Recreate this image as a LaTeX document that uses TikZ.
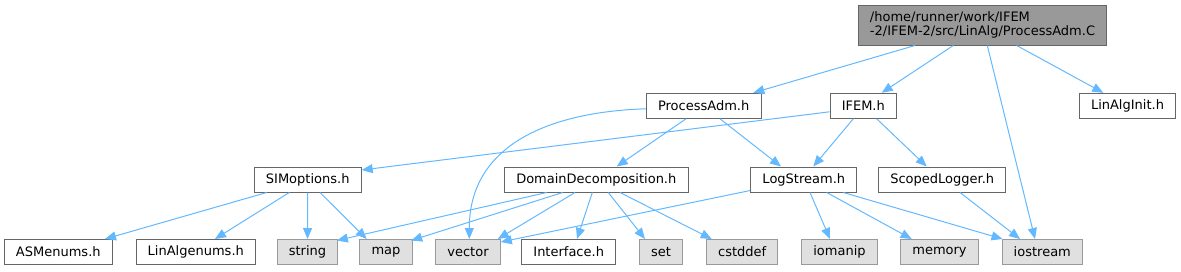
\documentclass[tikz,border=0pt]{standalone}
\usepackage{fontspec}
\setmainfont{DejaVu Sans}
\usepackage{xcolor}
\usepackage{tikz}
\usetikzlibrary{arrows.meta,positioning}

\definecolor{edgeblue}{HTML}{63B8FF}
\definecolor{boxline}{HTML}{666666}
\definecolor{sysline}{HTML}{999999}
\definecolor{sysfill}{HTML}{E0E0E0}
\definecolor{rootfill}{HTML}{999999}

\begin{document}
\begin{tikzpicture}[
  x=1pt, y=-1pt,
  font=\fontsize{13}{14.5}\selectfont,
  header/.style={rectangle, draw=boxline, fill=white, line width=1pt,
                 minimum height=25pt, inner xsep=11.7pt, inner ysep=2pt},
  syshdr/.style={header, draw=sysline, fill=sysfill},
  rootfile/.style={header, fill=rootfill, align=left,
                   minimum height=40pt, inner xsep=11pt},
  incl/.style={-{Triangle[length=11pt, width=9pt]}, draw=edgeblue,
               line width=1pt},
]
  \useasboundingbox (0,0) rectangle (1181,271);

  \node[rootfile] (root) at (982.5,25)
    {/home/runner/work/IFEM\\-2/IFEM-2/src/LinAlg/ProcessAdm.C};

  \node[header] (padm)    at (703.7,105.8)  {ProcessAdm.h};
  \node[header] (ifem)    at (863.3,105.8)  {IFEM.h};
  \node[header] (linit)   at (1127.5,105.8) {LinAlgInit.h};

  \node[header] (simopt)  at (307.7,179.5) {SIMoptions.h};
  \node[header] (domdec)  at (596.3,179.5) {DomainDecomposition.h};
  \node[header] (logstr)  at (803.8,179.5) {LogStream.h};
  \node[header] (scoped)  at (942.2,179.5) {ScopedLogger.h};

  \node[header] (asmenum) at (58.3,252)   {ASMenums.h};
  \node[header] (laenum)  at (195.8,252)  {LinAlgenums.h};
  \node[syshdr] (string)  at (307.5,252)  {string};
  \node[syshdr] (map)     at (386,252)    {map};
  \node[syshdr] (vector)  at (468,252)    {vector};
  \node[header] (iface)   at (568.7,252)  {Interface.h};
  \node[syshdr] (set)     at (661,252)    {set};
  \node[syshdr] (cstddef) at (742.2,252)  {cstddef};
  \node[syshdr] (iomanip) at (839.5,252)  {iomanip};
  \node[syshdr] (memory)  at (939.5,252)  {memory};
  \node[syshdr] (iostrm)  at (1042.3,252) {iostream};

  \draw[incl] ([xshift=-67.5pt]root.south) -- ([xshift=49.6pt]padm.north);
  \draw[incl] ([xshift=-29.2pt]root.south) -- ([xshift=18.4pt]ifem.north);
  \draw[incl] ([xshift=4.8pt]root.south) -- ([xshift=-7.3pt]iostrm.north);
  \draw[incl] ([xshift=34.2pt]root.south) -- ([xshift=-24.2pt]linit.north);

  \draw[incl] ([yshift=-3pt]padm.west) .. controls +(-95,3) and +(0,-95) .. ([xshift=1.3pt]vector.north);
  \draw[incl] ([xshift=-17.7pt]padm.south) -- ([xshift=20.4pt]domdec.north);
  \draw[incl] ([xshift=16.3pt]padm.south) -- ([xshift=-22.8pt]logstr.north);

  \draw[incl] ([yshift=-6pt]ifem.west) -- ([yshift=9.5pt]simopt.east);
  \draw[incl] ([xshift=-10pt]ifem.south) -- ([xshift=9.5pt]logstr.north);
  \draw[incl] ([xshift=13.4pt]ifem.south) -- ([xshift=-15.5pt]scoped.north);

  \draw[incl] ([xshift=-41pt]simopt.south) -- ([xshift=46.7pt]asmenum.north);
  \draw[incl] ([xshift=-18.4pt]simopt.south) -- ([xshift=19.2pt]laenum.north);
  \draw[incl] (simopt.south) -- (string.north);
  \draw[incl] ([xshift=12.3pt]simopt.south) -- ([xshift=-19.3pt]map.north);

  \draw[incl] ([xshift=-49.6pt]domdec.south) -- ([xshift=-1.5pt,yshift=-1.5pt]string.north east);
  \draw[incl] ([xshift=-33.6pt]domdec.south) -- ([xshift=-1.5pt,yshift=-1.5pt]map.north east);
  \draw[incl] ([xshift=-21.3pt]domdec.south) -- ([xshift=-3pt]vector.north east);
  \draw[incl] ([xshift=-4pt]domdec.south) -- ([xshift=8.3pt]iface.north);
  \draw[incl] ([xshift=12pt]domdec.south) -- ([xshift=-16pt]set.north);
  \draw[incl] ([xshift=23.7pt]domdec.south) -- ([xshift=-30.5pt]cstddef.north);

  \draw[incl] ([yshift=2pt]logstr.south west) -- ([yshift=-3pt]vector.north east);
  \draw[incl] ([xshift=6.2pt]logstr.south) -- ([xshift=-9.5pt]iomanip.north);
  \draw[incl] ([xshift=22.9pt]logstr.south) -- ([xshift=-27.8pt]memory.north);
  \draw[incl] ([xshift=39.5pt]logstr.south) -- ([xshift=1pt]iostrm.north west);

  \draw[incl] ([xshift=17.8pt]scoped.south) -- ([xshift=-22.3pt]iostrm.north);

\end{tikzpicture}
\end{document}
